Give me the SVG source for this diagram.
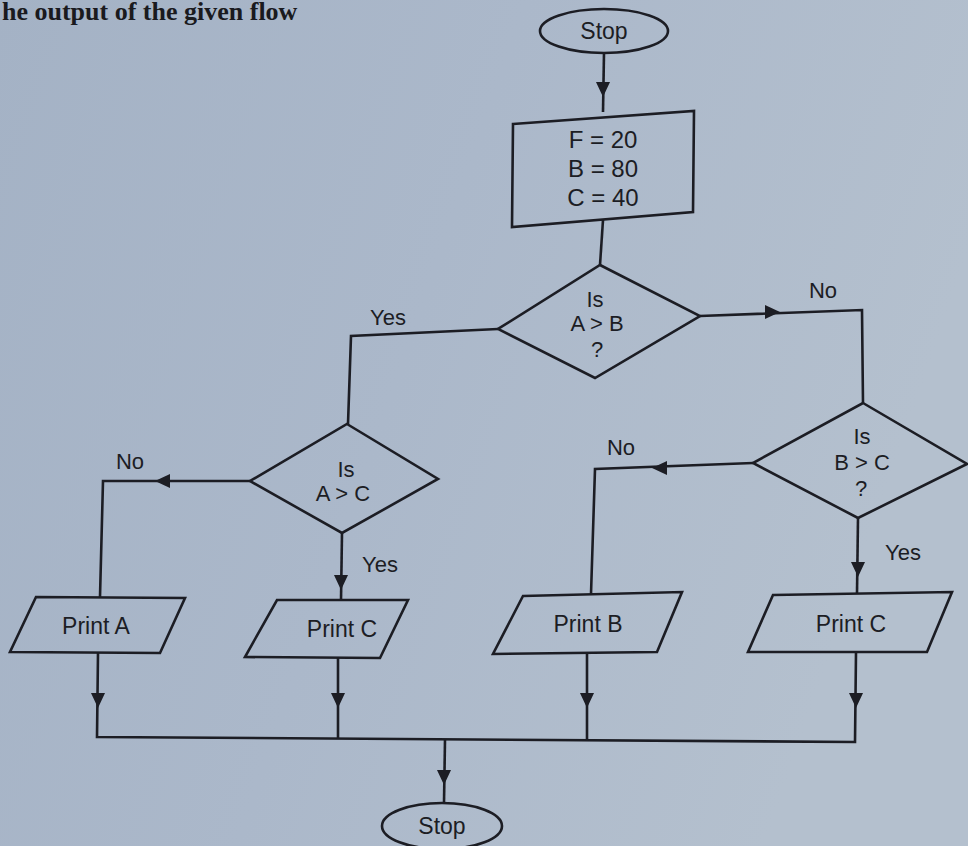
<svg xmlns="http://www.w3.org/2000/svg" xmlns:xlink="http://www.w3.org/1999/xlink" width="968" height="846" viewBox="0 0 968 846">
<style>
.bg{fill:url(#paper)}
.shape{fill:none;stroke:#1c1d24;stroke-width:2.6;stroke-linejoin:miter}
.conn{fill:none;stroke:#1c1d24;stroke-width:2.6}
.ah{fill:#1c1d24}
.t{font-family:"Liberation Sans",Arial,sans-serif;font-size:23px;fill:#1c1d24;text-anchor:middle}
.d{font-family:"Liberation Sans",Arial,sans-serif;font-size:22px;fill:#1c1d24;text-anchor:middle}
.lbl{font-family:"Liberation Sans",Arial,sans-serif;font-size:22px;fill:#1c1d24;text-anchor:middle}
.title{font-family:"Liberation Serif","Times New Roman",serif;font-size:26px;font-weight:bold;fill:#1a1a1e}
</style>
<defs>
<linearGradient id="paper" x1="0" y1="0" x2="1" y2="0.3">
<stop offset="0" stop-color="#a4b2c5"/>
<stop offset="0.5" stop-color="#abb8ca"/>
<stop offset="1" stop-color="#b4c0ce"/>
</linearGradient>
<path id="ah" class="ah" d="M-7,-15 L7,-15 L0,0 Z"/>
</defs>
<rect class="bg" x="0" y="0" width="968" height="846"/>
<text class="title" x="2" y="20">he output of the given flow</text>

<g id="connectors">
<path class="conn" d="M604,53 L603,112"/>
<path class="conn" d="M603,220 L600,265"/>
<path class="conn" d="M498,329 L351,336 L348,424"/>
<path class="conn" d="M700,316 L862,310 L863,403"/>
<path class="conn" d="M250,481 L103,481 L100,597"/>
<path class="conn" d="M342,533 L341,600"/>
<path class="conn" d="M753,463 L595,469 L591,594"/>
<path class="conn" d="M858,518 L857,593"/>
<path class="conn" d="M98,653 L97,737 L855,742 L856,652"/>
<path class="conn" d="M338,657 L338,739"/>
<path class="conn" d="M587,653 L587,741"/>
<path class="conn" d="M445,740 L444,803"/>
<use xlink:href="#ah" transform="translate(603,97)"/>
<use xlink:href="#ah" transform="translate(780,312) rotate(-90)"/>
<use xlink:href="#ah" transform="translate(155,481) rotate(90)"/>
<use xlink:href="#ah" transform="translate(341,590)"/>
<use xlink:href="#ah" transform="translate(652,468) rotate(90)"/>
<use xlink:href="#ah" transform="translate(858,577)"/>
<use xlink:href="#ah" transform="translate(98,708)"/>
<use xlink:href="#ah" transform="translate(338,708)"/>
<use xlink:href="#ah" transform="translate(587,708)"/>
<use xlink:href="#ah" transform="translate(856,708)"/>
<use xlink:href="#ah" transform="translate(444,785)"/>
<text class="lbl" x="388" y="325">Yes</text>
<text class="lbl" x="823" y="298">No</text>
<text class="lbl" x="130" y="469">No</text>
<text class="lbl" x="380" y="572">Yes</text>
<text class="lbl" x="621" y="455">No</text>
<text class="lbl" x="903" y="560">Yes</text>
</g>

<g id="start">
<ellipse class="shape" cx="604" cy="31" rx="64" ry="22"/>
<text class="t" x="604" y="39">Stop</text>
</g>

<g id="assign">
<polygon class="shape" points="513,124 694,111 693,212 512,227"/>
<text class="t" x="603" y="148" style="font-size:24px">F = 20</text>
<text class="t" x="603" y="177" style="font-size:24px">B = 80</text>
<text class="t" x="603" y="206" style="font-size:24px">C = 40</text>
</g>

<g id="decision-ab">
<polygon class="shape" points="600,265 700,316 595,378 498,329"/>
<text class="d" x="595" y="307">Is</text>
<text class="d" x="597" y="331">A &gt; B</text>
<text class="d" x="597" y="357">?</text>
</g>

<g id="decision-ac">
<polygon class="shape" points="347,424 438,479 342,533 250,481"/>
<text class="d" x="346" y="477">Is</text>
<text class="d" x="343" y="501">A &gt; C</text>
</g>

<g id="decision-bc">
<polygon class="shape" points="863,403 967,464 858,518 753,463"/>
<text class="d" x="862" y="444">Is</text>
<text class="d" x="862" y="470">B &gt; C</text>
<text class="d" x="861" y="496">?</text>
</g>

<g id="print-a">
<polygon class="shape" points="36,597 185,598 160,653 10,652"/>
<text class="t" x="96" y="634">Print A</text>
</g>

<g id="print-c-left">
<polygon class="shape" points="277,600 408,600 380,658 245,657"/>
<text class="t" x="342" y="637">Print C</text>
</g>

<g id="print-b">
<polygon class="shape" points="523,596 682,592 657,652 493,654"/>
<text class="t" x="588" y="632">Print B</text>
</g>

<g id="print-c-right">
<polygon class="shape" points="773,595 952,592 927,652 748,652"/>
<text class="t" x="851" y="632">Print C</text>
</g>

<g id="end">
<ellipse class="shape" cx="442" cy="826" rx="60" ry="23"/>
<text class="t" x="442" y="834">Stop</text>
</g>
</svg>
